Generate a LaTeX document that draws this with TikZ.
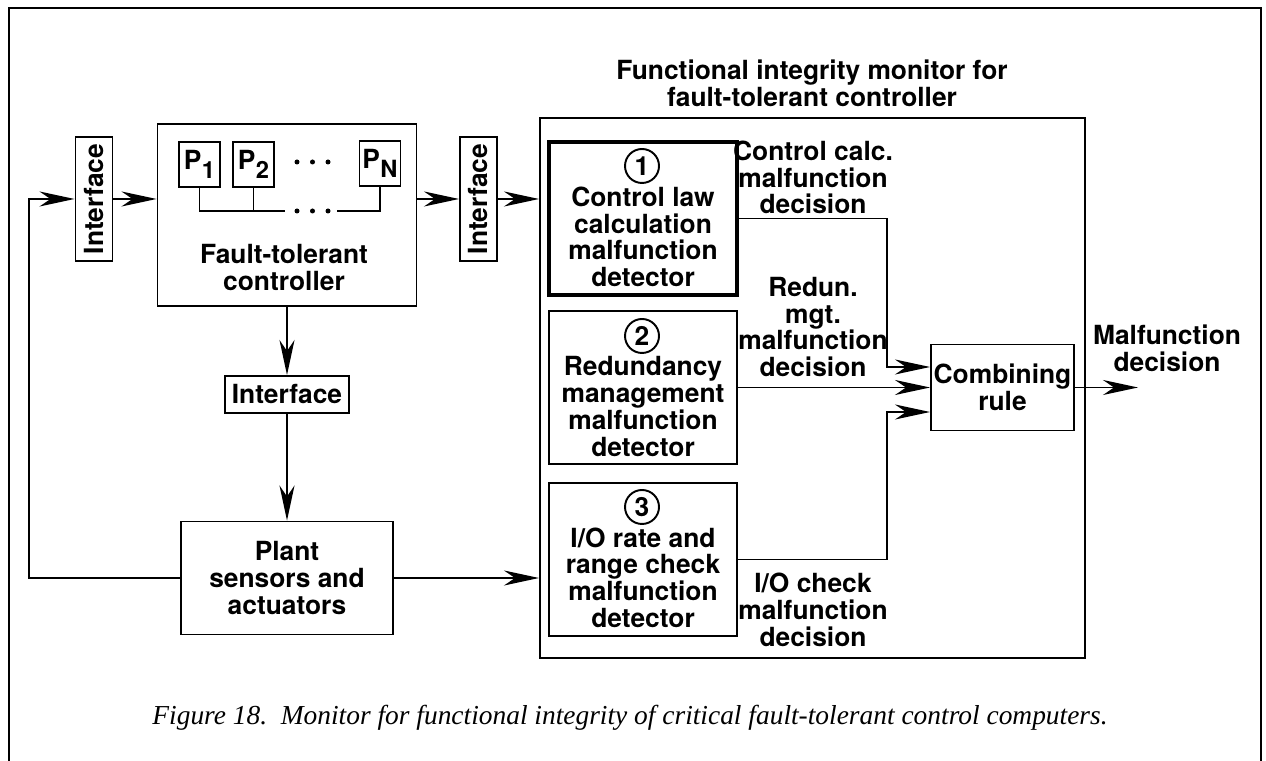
\documentclass[tikz,border=0pt]{standalone}
\usepackage{fontspec}
\setmainfont{TeX Gyre Heros}
\newfontfamily\capfont{Liberation Serif}
\usetikzlibrary{arrows.meta}
\newcommand{\proc}[1]{P\kern.3pt\raisebox{-.6ex}{\fontsize{13.5}{13.5}\selectfont #1}}

\begin{document}
\begin{tikzpicture}[
  box/.style={rectangle, draw, line width=1.1pt, inner sep=0pt},
  txt/.style={align=center, inner sep=0pt,
              font=\fontsize{15}{15.2}\selectfont\bfseries},
  iface/.style={box, txt, minimum width=2.48cm, minimum height=0.74cm},
  pbox/.style={box, txt, minimum width=0.82cm, minimum height=0.9cm},
  det/.style={box, minimum width=3.76cm, minimum height=3.06cm},
  num/.style={circle, draw, line width=1.1pt, minimum size=0.68cm, txt},
  wire/.style={line width=1.1pt},
  arr/.style={-{Stealth[length=7mm, width=3mm, inset=2.2mm]}, line width=1.1pt}
]
  \useasboundingbox (0,0) rectangle (25.32,15.22);

  % Cadre de la page
  \draw[wire] (0.18,0) -- (0.18,15.06) -- (25.22,15.06) -- (25.22,0);

  % Controleur tolerant aux pannes
  \node[iface, rotate=90] (ifl) at (1.88, 11.24) {Interface};
  \node[box, minimum width=5.18cm, minimum height=3.64cm] (ctrl) at (5.74, 10.92) {};
  \node[pbox] (p1) at (3.99, 11.93) {\proc{1}};
  \node[pbox] (p2) at (5.07, 11.93) {\proc{2}};
  \node[pbox] (pn) at (7.6, 11.95) {\proc{N}};
  \coordinate (busl) at (5.7, 11.0);
  \coordinate (busr) at (6.74, 11.0);
  \draw[wire] (p1.south) |- (busl);
  \draw[wire] (p2.south) -- (p2.south |- busl);
  \draw[wire] (pn.south) |- (busr);
  \foreach \x in {5.94, 6.25, 6.56} {
    \fill (\x, 11.98) circle (0.05);
    \fill (\x, 11.0) circle (0.05);
  }
  \node[txt] (ctrltxt) at (5.68, 9.87) {Fault-tolerant\\controller};
  \node[iface] (ifb) at (5.74, 7.33) {Interface};
  \node[box, txt, minimum width=4.24cm, minimum height=2.26cm] (plant) at (5.74, 3.66)
    {Plant\\sensors and\\actuators};
  \node[iface, rotate=90] (ifr) at (9.57, 11.24) {Interface};

  % Moniteur d'integrite fonctionnelle
  \node[txt] (title) at (16.24, 13.55) {Functional integrity monitor for\\fault-tolerant controller};
  \node[box, minimum width=10.9cm, minimum height=10.8cm] (mon) at (16.25, 7.46) {};
  \node[det, line width=2.6pt] (det1) at (12.86, 10.85) {};
  \node[det] (det2) at (12.86, 7.47) {};
  \node[det] (det3) at (12.86, 4.03) {};
  \foreach \n/\y in {1/11.9, 2/8.5, 3/5.08}
    \node[num] (num\n) at (12.84, \y) {\n};
  \node[txt] (det1txt) at (12.86, 10.48) {Control law\\calculation\\malfunction\\detector};
  \node[txt] (det2txt) at (12.86, 7.09) {Redundancy\\management\\malfunction\\detector};
  \node[txt] (det3txt) at (12.86, 3.67) {I/O rate and\\range check\\malfunction\\detector};
  \node[box, txt, minimum width=2.86cm, minimum height=1.72cm] (comb) at (20.05, 7.47)
    {Combining\\rule};

  % Etiquettes des decisions
  \node[txt] (lab1) at (16.26, 11.67) {Control calc.\\malfunction\\decision};
  \node[txt] (lab2) at (16.26, 8.68) {Redun.\\mgt.\\malfunction\\decision};
  \node[txt] (lab3) at (16.26, 3.02) {I/O check\\malfunction\\decision};
  \node[txt] (outlab) at (23.34, 8.25) {Malfunction\\decision};

  % Liaisons
  \coordinate (fb) at (0.58, 0);
  \draw[arr] (plant.west) -- (plant.west -| fb) |- (ifl.north);
  \draw[arr] (ifl.south) -- (ifl.south -| ctrl.west);
  \draw[arr] (ctrl.east |- ifr.north) -- (ifr.north);
  \draw[arr] (ifr.south) -- (ifr.south -| mon.west);
  \draw[arr] (ctrl.south) -- (ifb.north);
  \draw[arr] (ifb.south) -- (plant.north);
  \draw[arr] (plant.east) -- (plant.east -| mon.west);

  \coordinate (bend) at (17.74, 0);
  \path (comb.west) ++(0, 0.41) coordinate (in1);
  \path (comb.west) ++(0, -0.49) coordinate (in3);
  \draw[arr] (det1.east) -| (bend |- in1) -- (in1);
  \draw[arr] (det2.east) -- (comb.west);
  \draw[arr] (det3.east) -| (bend |- in3) -- (in3);
  \coordinate (out) at (22.76, 7.47);
  \draw[arr] (comb.east) -- (out);

  % Legende
  \node[font=\capfont\itshape\fontsize{15.6}{15.6}\selectfont] (cap) at (12.6, 0.86)
    {Figure 18.\ \ Monitor for functional integrity of critical fault-tolerant control computers.};
\end{tikzpicture}
\end{document}
